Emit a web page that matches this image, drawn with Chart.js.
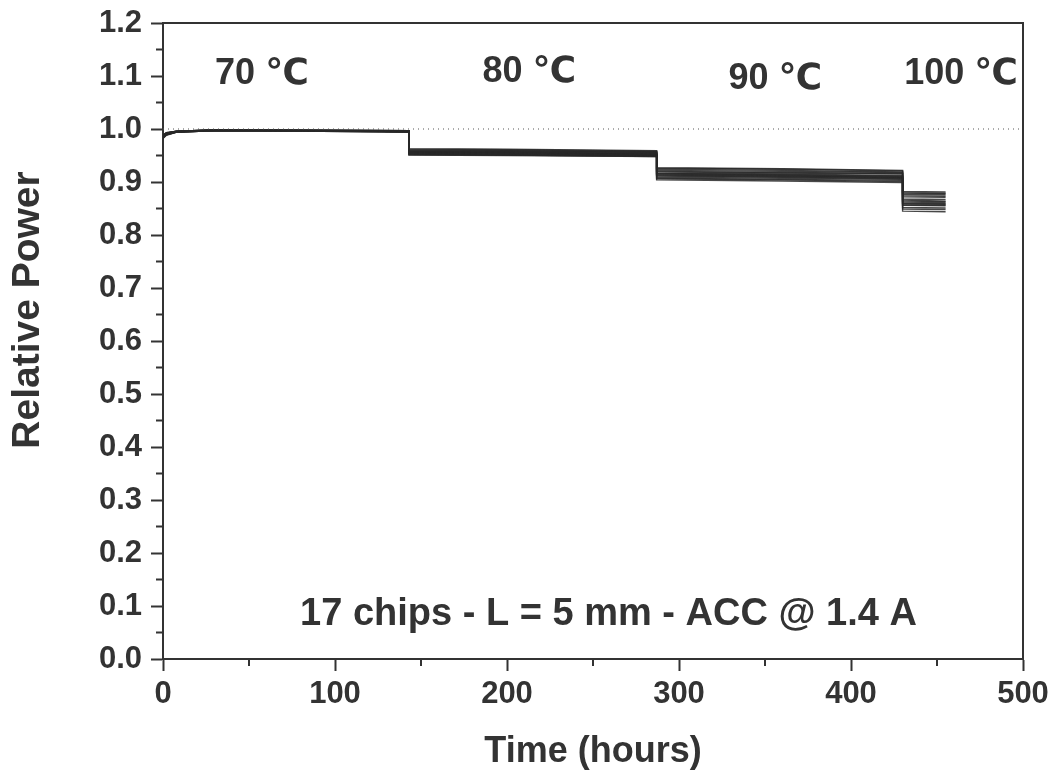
<!DOCTYPE html>
<html>
<head>
<meta charset="utf-8">
<title>Relative Power vs Time</title>
<script src="https://cdn.jsdelivr.net/npm/chart.js@4/dist/chart.umd.min.js"></script>
<style>
    html, body { margin: 0; padding: 0; background: #fff; }
    #wrap { width: 1056px; height: 780px; }
</style>
</head>
<body>
<div id="wrap"><canvas id="powerChart" width="1056" height="780"></canvas></div>
<script>
// sample times (hours); repeated times give the vertical steps between temperatures
const hours = [0, 2, 8, 30, 80, 143, 143, 200, 287, 287, 360, 430, 430, 455];

// relative power for each of the 17 chips at the times above
const chip01 = [0.986, 0.992, 0.996, 0.998, 0.998, 0.997, 0.962, 0.961, 0.958, 0.926, 0.924, 0.921, 0.880, 0.879];
const chip02 = [0.984, 0.990, 0.995, 0.997, 0.997, 0.996, 0.960, 0.959, 0.956, 0.922, 0.920, 0.918, 0.877, 0.876];
const chip03 = [0.988, 0.993, 0.996, 0.998, 0.997, 0.995, 0.958, 0.957, 0.955, 0.919, 0.917, 0.915, 0.872, 0.871];
const chip04 = [0.983, 0.989, 0.994, 0.997, 0.997, 0.996, 0.957, 0.956, 0.954, 0.917, 0.915, 0.912, 0.868, 0.867];
const chip05 = [0.987, 0.992, 0.995, 0.997, 0.996, 0.994, 0.956, 0.955, 0.953, 0.915, 0.913, 0.910, 0.866, 0.864];
const chip06 = [0.985, 0.991, 0.995, 0.998, 0.998, 0.997, 0.955, 0.954, 0.952, 0.913, 0.911, 0.909, 0.862, 0.861];
const chip07 = [0.989, 0.993, 0.996, 0.998, 0.997, 0.995, 0.954, 0.953, 0.951, 0.911, 0.909, 0.906, 0.859, 0.858];
const chip08 = [0.986, 0.991, 0.995, 0.997, 0.997, 0.996, 0.953, 0.952, 0.950, 0.909, 0.907, 0.905, 0.856, 0.855];
const chip09 = [0.982, 0.988, 0.994, 0.997, 0.996, 0.995, 0.952, 0.951, 0.949, 0.907, 0.905, 0.903, 0.852, 0.851];
const chip10 = [0.987, 0.992, 0.995, 0.998, 0.998, 0.997, 0.959, 0.958, 0.956, 0.920, 0.918, 0.916, 0.874, 0.873];
const chip11 = [0.985, 0.990, 0.995, 0.997, 0.997, 0.995, 0.961, 0.960, 0.957, 0.924, 0.922, 0.919, 0.879, 0.878];
const chip12 = [0.988, 0.992, 0.996, 0.998, 0.997, 0.996, 0.957, 0.956, 0.953, 0.916, 0.914, 0.911, 0.864, 0.863];
const chip13 = [0.984, 0.990, 0.994, 0.997, 0.997, 0.996, 0.956, 0.955, 0.952, 0.914, 0.912, 0.908, 0.860, 0.859];
const chip14 = [0.986, 0.991, 0.995, 0.997, 0.996, 0.994, 0.954, 0.953, 0.950, 0.912, 0.910, 0.907, 0.857, 0.856];
const chip15 = [0.983, 0.989, 0.994, 0.997, 0.997, 0.995, 0.952, 0.951, 0.948, 0.906, 0.904, 0.901, 0.849, 0.848];
const chip16 = [0.987, 0.992, 0.996, 0.998, 0.997, 0.996, 0.963, 0.962, 0.959, 0.927, 0.925, 0.922, 0.882, 0.881];
const chip17 = [0.985, 0.991, 0.995, 0.997, 0.997, 0.995, 0.951, 0.950, 0.948, 0.904, 0.902, 0.899, 0.845, 0.844];

const chips = [chip01, chip02, chip03, chip04, chip05, chip06, chip07, chip08, chip09,
    chip10, chip11, chip12, chip13, chip14, chip15, chip16, chip17];

// reference level
const refHours = [0, 500];
const refPower = [1.0, 1.0];

// temperature labels and test conditions, placed in data units
const noteTexts = ['70 \u2103', '80 \u2103', '90 \u2103', '100 \u2103', '17 chips - L = 5 mm - ACC @ 1.4 A'];
const noteHours = [57.5, 213, 356, 464, 259];
const notePower = [1.104, 1.107, 1.095, 1.104, 0.083];

document.addEventListener("DOMContentLoaded", function () {
    const ink = '#333';
    const family = '"Liberation Sans", Arial, "DejaVu Sans", sans-serif';

    const datasets = chips.map((values, i) => ({
        label: 'chip ' + (i + 1),
        data: hours.map((h, j) => ({x: h, y: values[j]})),
        borderColor: 'rgba(40, 40, 40, 0.85)',
        borderWidth: 1.4,
        pointRadius: 0,
        tension: 0
    }));

    datasets.unshift({
        label: 'reference',
        data: refHours.map((h, j) => ({x: h, y: refPower[j]})),
        borderColor: '#555',
        borderWidth: 1,
        borderDash: [1, 4],
        pointRadius: 0
    });

    // frame, minor ticks, notes and the rotated y title
    const decorations = {
        id: 'decorations',
        afterDatasetsDraw(chart) {
            const ctx = chart.ctx;
            const area = chart.chartArea;
            const xs = chart.scales.x;
            const ys = chart.scales.y;
            ctx.save();
            ctx.strokeStyle = ink;
            ctx.lineWidth = 2;
            ctx.beginPath();
            ctx.moveTo(area.left, area.top);
            ctx.lineTo(area.right, area.top);
            ctx.lineTo(area.right, area.bottom);
            ctx.stroke();

            ctx.beginPath();
            for (let v = 50; v < 500; v += 100) {
                const px = xs.getPixelForValue(v);
                ctx.moveTo(px, area.bottom);
                ctx.lineTo(px, area.bottom + 7);
            }
            for (let k = 0; k < 12; k++) {
                const py = ys.getPixelForValue(k / 10 + 0.05);
                ctx.moveTo(area.left, py);
                ctx.lineTo(area.left - 7, py);
            }
            ctx.stroke();

            ctx.fillStyle = ink;
            ctx.textAlign = 'center';
            ctx.textBaseline = 'middle';
            noteTexts.forEach((t, i) => {
                ctx.font = 'bold ' + (i === 4 ? 38 : 36) + 'px ' + family;
                ctx.fillText(t, xs.getPixelForValue(noteHours[i]), ys.getPixelForValue(notePower[i]));
            });

            ctx.translate(area.left - 135, area.top + 287);
            ctx.rotate(-Math.PI / 2);
            ctx.font = 'bold 39px ' + family;
            ctx.fillText('Relative Power', 0, 0);
            ctx.restore();
        }
    };

    new Chart(document.getElementById("powerChart"), {
        type: 'line',
        data: {datasets: datasets},
        plugins: [decorations],
        options: {
            responsive: false,
            animation: false,
            layout: {padding: {top: 23, right: 33, left: 0, bottom: 0}},
            plugins: {
                legend: {display: false},
                tooltip: {enabled: false}
            },
            scales: {
                x: {
                    type: 'linear',
                    min: 0,
                    max: 500,
                    afterFit: scale => {
                        scale.height = 121;
                        scale.paddingLeft = 0;
                        scale.paddingRight = 0;
                    },
                    border: {color: ink, width: 2},
                    grid: {drawOnChartArea: false, tickLength: 12, tickColor: ink, tickWidth: 2},
                    ticks: {
                        stepSize: 100,
                        padding: 5,
                        color: ink,
                        font: {family: family, size: 31, weight: 'bold'}
                    },
                    title: {
                        display: true,
                        text: 'Time (hours)',
                        color: ink,
                        padding: {top: 0, bottom: 6},
                        font: {family: family, size: 36, weight: 'bold'}
                    }
                },
                y: {
                    min: 0,
                    max: 1.2,
                    afterFit: scale => {
                        scale.width = 163;
                        scale.paddingTop = 0;
                        scale.paddingBottom = 0;
                    },
                    border: {color: ink, width: 2},
                    grid: {drawOnChartArea: false, tickLength: 12, tickColor: ink, tickWidth: 2},
                    ticks: {
                        stepSize: 0.1,
                        padding: 9,
                        color: ink,
                        font: {family: family, size: 31, weight: 'bold'},
                        callback: v => v.toFixed(1)
                    }
                }
            }
        }
    });
});
</script>
</body>
</html>
